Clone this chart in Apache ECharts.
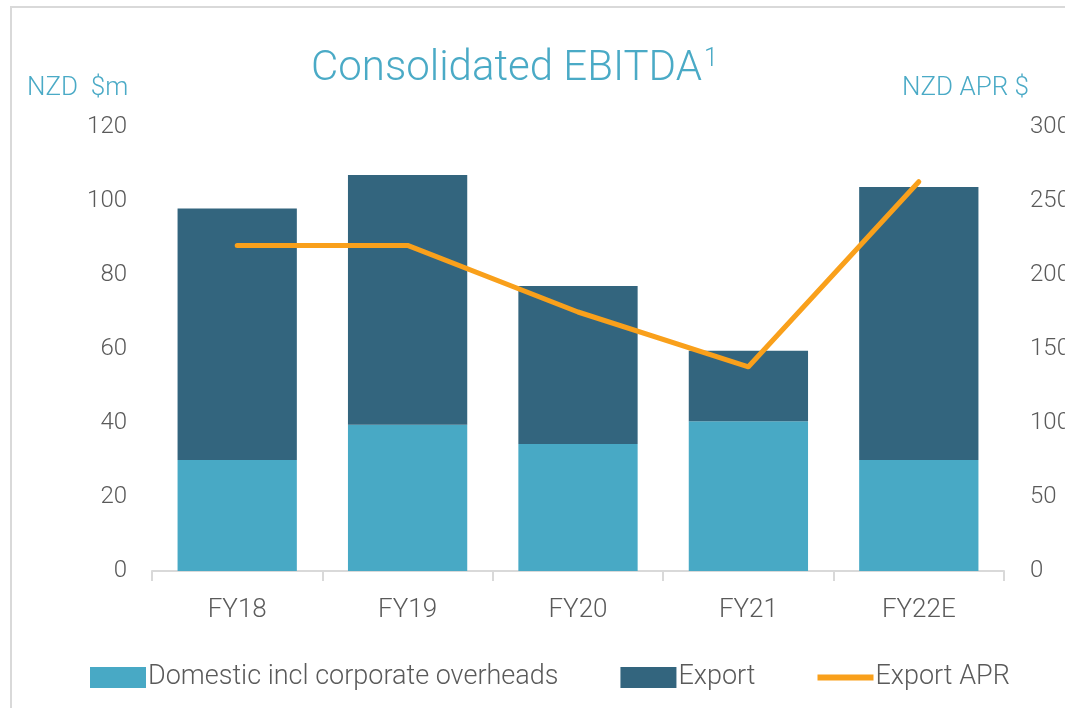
<!DOCTYPE html>
<html>
<head>
<meta charset="utf-8">
<script src="https://cdn.jsdelivr.net/npm/echarts@6/dist/echarts.min.js"></script>
<style>
html,body{margin:0;padding:0;background:#fff;}
#c{width:1065px;height:708px;}
</style>
</head>
<body>
<div id="c"></div>
<script>
const categories = ['FY18', 'FY19', 'FY20', 'FY21', 'FY22E'];
const domestic = [30, 39.5, 34.3, 40.5, 30];
const exportVals = [68, 67.5, 42.7, 19, 73.8];
const exportAPR = [220, 220, 175, 138, 263];
const leftTicks = { min: 0, max: 120, interval: 20 };
const rightTicks = { min: 0, max: 300, interval: 50 };

const FONT = 'Roboto';
const GRAY = '#5a5a5a';
const TEAL = '#4AAAC6';
const W = 300;

const chart = echarts.init(document.getElementById('c'), null, { renderer: 'canvas' });
chart.setOption({
  backgroundColor: '#fff',
  animation: false,
  textStyle: { fontFamily: FONT },
  title: [
    {
      text: '{a|Consolidated EBITDA}{s|1}',
      left: 306, top: 42,
      textStyle: {
        rich: {
          a: { fontFamily: FONT, fontSize: 42, color: TEAL, fontWeight: W },
          s: { fontFamily: FONT, fontSize: 25, color: TEAL, fontWeight: W, verticalAlign: 'top', padding: [0, 0, 20, 2] }
        }
      }
    },
    { text: 'NZD  $m', left: 22, top: 70, textStyle: { fontFamily: FONT, fontSize: 26, color: TEAL, fontWeight: W } },
    { text: 'NZD APR $', left: 897, top: 70, textStyle: { fontFamily: FONT, fontSize: 26, color: TEAL, fontWeight: W } }
  ],
  graphic: [
    { type: 'rect', shape: { x: 11, y: 7, width: 1100, height: 760 }, style: { fill: 'none', stroke: '#d9d9d9', lineWidth: 2 }, silent: true }
  ],
  grid: { left: 152, right: 61, top: 127, bottom: 137, outerBoundsMode: 'none', containLabel: false },
  legend: {
    bottom: 12, left: 85,
    itemWidth: 56, itemHeight: 21, itemGap: 62,
    textStyle: { fontFamily: FONT, fontSize: 27, color: GRAY, fontWeight: W, padding: [0, 0, 0, -3] },
    data: [
      { name: 'Domestic incl corporate overheads', icon: 'rect' },
      { name: 'Export', icon: 'rect' },
      { name: 'Export APR', icon: 'path://M0,0L56,0L56,6L0,6Z', itemStyle: { color: '#F9A01B' } }
    ]
  },
  xAxis: {
    type: 'category',
    data: categories,
    axisLine: { lineStyle: { color: '#d9d9d9', width: 2 } },
    axisTick: { show: true, length: 10, lineStyle: { color: '#d9d9d9', width: 2 } },
    axisLabel: { fontFamily: FONT, fontSize: 26, color: GRAY, fontWeight: W, margin: 26 }
  },
  yAxis: [
    {
      type: 'value', min: leftTicks.min, max: leftTicks.max, interval: leftTicks.interval,
      splitLine: { show: false }, axisLine: { show: false }, axisTick: { show: false },
      axisLabel: { fontFamily: FONT, fontSize: 24, color: GRAY, fontWeight: W, margin: 25 }
    },
    {
      type: 'value', min: rightTicks.min, max: rightTicks.max, interval: rightTicks.interval,
      splitLine: { show: false }, axisLine: { show: false }, axisTick: { show: false },
      axisLabel: { fontFamily: FONT, fontSize: 24, color: GRAY, fontWeight: W, margin: 26 }
    }
  ],
  series: [
    {
      name: 'Domestic incl corporate overheads', type: 'bar', stack: 'e', data: domestic,
      barCategoryGap: '30%', itemStyle: { color: '#48A9C5' }
    },
    {
      name: 'Export', type: 'bar', stack: 'e', data: exportVals,
      barCategoryGap: '30%', itemStyle: { color: '#33657E' }
    },
    {
      name: 'Export APR', type: 'line', yAxisIndex: 1, data: exportAPR,
      symbol: 'none', lineStyle: { color: '#F9A01B', width: 5, cap: 'round', join: 'round' },
      itemStyle: { color: '#F9A01B' }
    }
  ]
});
</script>
</body>
</html>
